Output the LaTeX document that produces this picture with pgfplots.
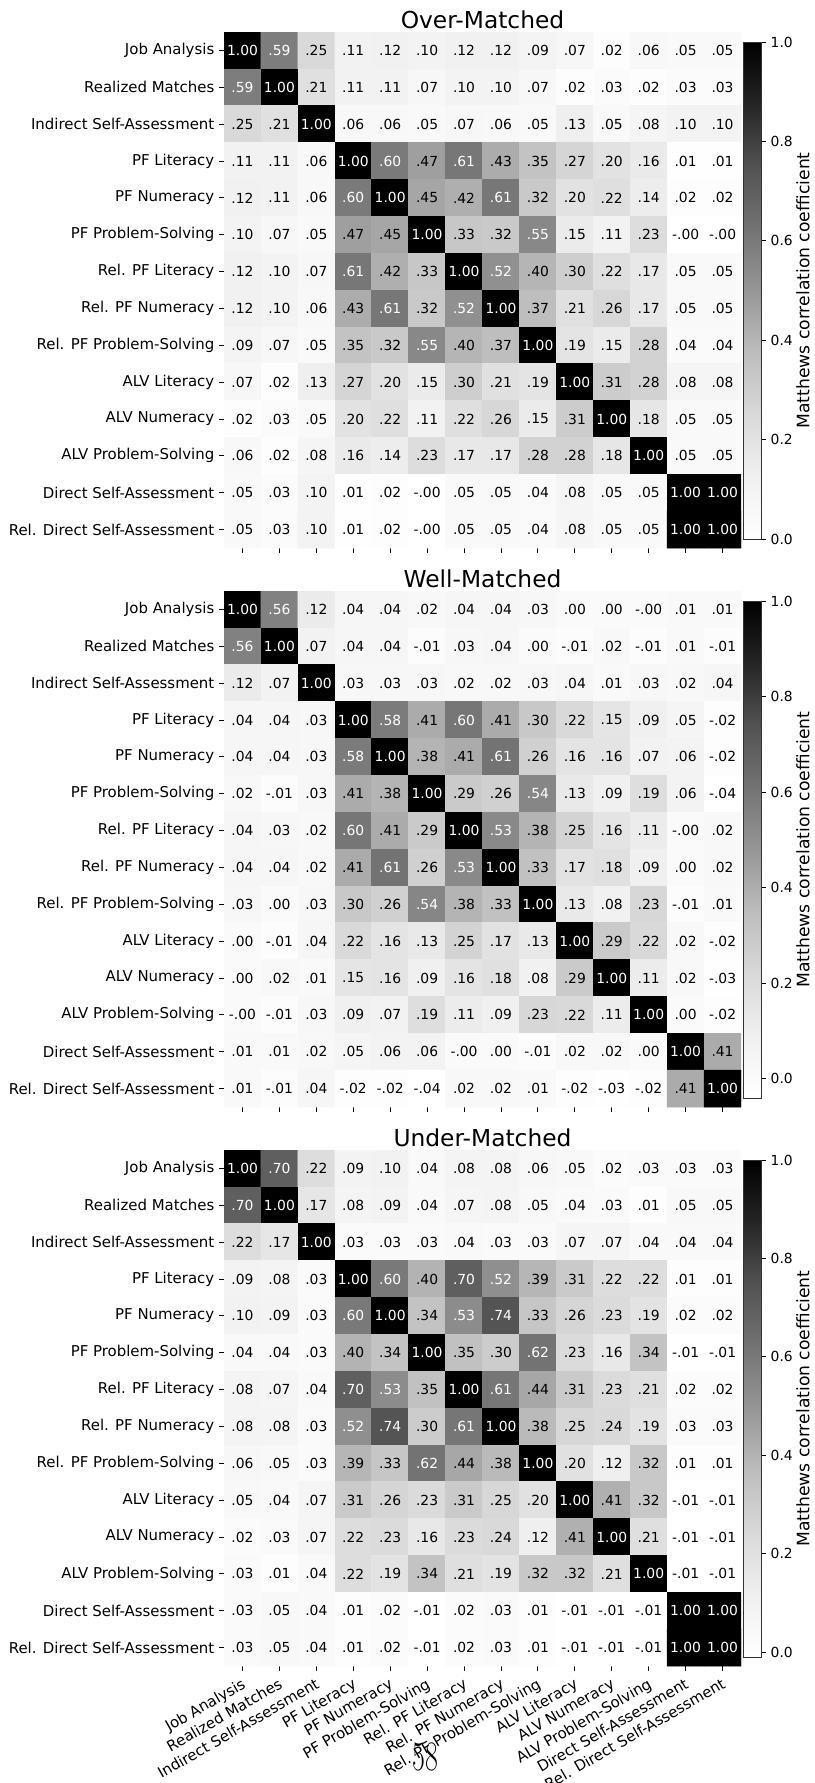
\documentclass[border=0pt]{standalone}
\usepackage{fontspec}
\setsansfont{DejaVu Sans}
\renewcommand{\familydefault}{\sfdefault}
\usepackage{graphicx}
\usepackage{pgfplots}
\usepackage{pgfplotstable}
\pgfplotsset{compat=1.18}

\newcommand\lab{\fontsize{11.2}{13}\selectfont}
\newcommand\ann{\fontsize{10.4}{12}\selectfont}
\newcommand\ttl{\fontsize{17.5}{20}\selectfont}
\newcommand\cbl{\fontsize{12.9}{15}\selectfont}

\pgfplotstableread{
x y v l
0 0 1 1.00
1 0 0.59 .59
2 0 0.25 .25
3 0 0.11 .11
4 0 0.12 .12
5 0 0.10 .10
6 0 0.12 .12
7 0 0.12 .12
8 0 0.09 .09
9 0 0.07 .07
10 0 0.02 .02
11 0 0.06 .06
12 0 0.05 .05
13 0 0.05 .05
0 1 0.59 .59
1 1 1 1.00
2 1 0.21 .21
3 1 0.11 .11
4 1 0.11 .11
5 1 0.07 .07
6 1 0.10 .10
7 1 0.10 .10
8 1 0.07 .07
9 1 0.02 .02
10 1 0.03 .03
11 1 0.02 .02
12 1 0.03 .03
13 1 0.03 .03
0 2 0.25 .25
1 2 0.21 .21
2 2 1 1.00
3 2 0.06 .06
4 2 0.06 .06
5 2 0.05 .05
6 2 0.07 .07
7 2 0.06 .06
8 2 0.05 .05
9 2 0.13 .13
10 2 0.05 .05
11 2 0.08 .08
12 2 0.10 .10
13 2 0.10 .10
0 3 0.11 .11
1 3 0.11 .11
2 3 0.06 .06
3 3 1 1.00
4 3 0.60 .60
5 3 0.47 .47
6 3 0.61 .61
7 3 0.43 .43
8 3 0.35 .35
9 3 0.27 .27
10 3 0.20 .20
11 3 0.16 .16
12 3 0.01 .01
13 3 0.01 .01
0 4 0.12 .12
1 4 0.11 .11
2 4 0.06 .06
3 4 0.60 .60
4 4 1 1.00
5 4 0.45 .45
6 4 0.42 .42
7 4 0.61 .61
8 4 0.32 .32
9 4 0.20 .20
10 4 0.22 .22
11 4 0.14 .14
12 4 0.02 .02
13 4 0.02 .02
0 5 0.10 .10
1 5 0.07 .07
2 5 0.05 .05
3 5 0.47 .47
4 5 0.45 .45
5 5 1 1.00
6 5 0.33 .33
7 5 0.32 .32
8 5 0.55 .55
9 5 0.15 .15
10 5 0.11 .11
11 5 0.23 .23
12 5 0 -.00
13 5 0 -.00
0 6 0.12 .12
1 6 0.10 .10
2 6 0.07 .07
3 6 0.61 .61
4 6 0.42 .42
5 6 0.33 .33
6 6 1 1.00
7 6 0.52 .52
8 6 0.40 .40
9 6 0.30 .30
10 6 0.22 .22
11 6 0.17 .17
12 6 0.05 .05
13 6 0.05 .05
0 7 0.12 .12
1 7 0.10 .10
2 7 0.06 .06
3 7 0.43 .43
4 7 0.61 .61
5 7 0.32 .32
6 7 0.52 .52
7 7 1 1.00
8 7 0.37 .37
9 7 0.21 .21
10 7 0.26 .26
11 7 0.17 .17
12 7 0.05 .05
13 7 0.05 .05
0 8 0.09 .09
1 8 0.07 .07
2 8 0.05 .05
3 8 0.35 .35
4 8 0.32 .32
5 8 0.55 .55
6 8 0.40 .40
7 8 0.37 .37
8 8 1 1.00
9 8 0.19 .19
10 8 0.15 .15
11 8 0.28 .28
12 8 0.04 .04
13 8 0.04 .04
0 9 0.07 .07
1 9 0.02 .02
2 9 0.13 .13
3 9 0.27 .27
4 9 0.20 .20
5 9 0.15 .15
6 9 0.30 .30
7 9 0.21 .21
8 9 0.19 .19
9 9 1 1.00
10 9 0.31 .31
11 9 0.28 .28
12 9 0.08 .08
13 9 0.08 .08
0 10 0.02 .02
1 10 0.03 .03
2 10 0.05 .05
3 10 0.20 .20
4 10 0.22 .22
5 10 0.11 .11
6 10 0.22 .22
7 10 0.26 .26
8 10 0.15 .15
9 10 0.31 .31
10 10 1 1.00
11 10 0.18 .18
12 10 0.05 .05
13 10 0.05 .05
0 11 0.06 .06
1 11 0.02 .02
2 11 0.08 .08
3 11 0.16 .16
4 11 0.14 .14
5 11 0.23 .23
6 11 0.17 .17
7 11 0.17 .17
8 11 0.28 .28
9 11 0.28 .28
10 11 0.18 .18
11 11 1 1.00
12 11 0.05 .05
13 11 0.05 .05
0 12 0.05 .05
1 12 0.03 .03
2 12 0.10 .10
3 12 0.01 .01
4 12 0.02 .02
5 12 0 -.00
6 12 0.05 .05
7 12 0.05 .05
8 12 0.04 .04
9 12 0.08 .08
10 12 0.05 .05
11 12 0.05 .05
12 12 1 1.00
13 12 1 1.00
0 13 0.05 .05
1 13 0.03 .03
2 13 0.10 .10
3 13 0.01 .01
4 13 0.02 .02
5 13 0 -.00
6 13 0.05 .05
7 13 0.05 .05
8 13 0.04 .04
9 13 0.08 .08
10 13 0.05 .05
11 13 0.05 .05
12 13 1 1.00
13 13 1 1.00
}\tA

\pgfplotstableread{
x y v l
0 0 1 1.00
1 0 0.56 .56
2 0 0.12 .12
3 0 0.04 .04
4 0 0.04 .04
5 0 0.02 .02
6 0 0.04 .04
7 0 0.04 .04
8 0 0.03 .03
9 0 0 .00
10 0 0 .00
11 0 0 -.00
12 0 0.01 .01
13 0 0.01 .01
0 1 0.56 .56
1 1 1 1.00
2 1 0.07 .07
3 1 0.04 .04
4 1 0.04 .04
5 1 -0.01 -.01
6 1 0.03 .03
7 1 0.04 .04
8 1 0 .00
9 1 -0.01 -.01
10 1 0.02 .02
11 1 -0.01 -.01
12 1 0.01 .01
13 1 -0.01 -.01
0 2 0.12 .12
1 2 0.07 .07
2 2 1 1.00
3 2 0.03 .03
4 2 0.03 .03
5 2 0.03 .03
6 2 0.02 .02
7 2 0.02 .02
8 2 0.03 .03
9 2 0.04 .04
10 2 0.01 .01
11 2 0.03 .03
12 2 0.02 .02
13 2 0.04 .04
0 3 0.04 .04
1 3 0.04 .04
2 3 0.03 .03
3 3 1 1.00
4 3 0.58 .58
5 3 0.41 .41
6 3 0.60 .60
7 3 0.41 .41
8 3 0.30 .30
9 3 0.22 .22
10 3 0.15 .15
11 3 0.09 .09
12 3 0.05 .05
13 3 -0.02 -.02
0 4 0.04 .04
1 4 0.04 .04
2 4 0.03 .03
3 4 0.58 .58
4 4 1 1.00
5 4 0.38 .38
6 4 0.41 .41
7 4 0.61 .61
8 4 0.26 .26
9 4 0.16 .16
10 4 0.16 .16
11 4 0.07 .07
12 4 0.06 .06
13 4 -0.02 -.02
0 5 0.02 .02
1 5 -0.01 -.01
2 5 0.03 .03
3 5 0.41 .41
4 5 0.38 .38
5 5 1 1.00
6 5 0.29 .29
7 5 0.26 .26
8 5 0.54 .54
9 5 0.13 .13
10 5 0.09 .09
11 5 0.19 .19
12 5 0.06 .06
13 5 -0.04 -.04
0 6 0.04 .04
1 6 0.03 .03
2 6 0.02 .02
3 6 0.60 .60
4 6 0.41 .41
5 6 0.29 .29
6 6 1 1.00
7 6 0.53 .53
8 6 0.38 .38
9 6 0.25 .25
10 6 0.16 .16
11 6 0.11 .11
12 6 0 -.00
13 6 0.02 .02
0 7 0.04 .04
1 7 0.04 .04
2 7 0.02 .02
3 7 0.41 .41
4 7 0.61 .61
5 7 0.26 .26
6 7 0.53 .53
7 7 1 1.00
8 7 0.33 .33
9 7 0.17 .17
10 7 0.18 .18
11 7 0.09 .09
12 7 0 .00
13 7 0.02 .02
0 8 0.03 .03
1 8 0 .00
2 8 0.03 .03
3 8 0.30 .30
4 8 0.26 .26
5 8 0.54 .54
6 8 0.38 .38
7 8 0.33 .33
8 8 1 1.00
9 8 0.13 .13
10 8 0.08 .08
11 8 0.23 .23
12 8 -0.01 -.01
13 8 0.01 .01
0 9 0 .00
1 9 -0.01 -.01
2 9 0.04 .04
3 9 0.22 .22
4 9 0.16 .16
5 9 0.13 .13
6 9 0.25 .25
7 9 0.17 .17
8 9 0.13 .13
9 9 1 1.00
10 9 0.29 .29
11 9 0.22 .22
12 9 0.02 .02
13 9 -0.02 -.02
0 10 0 .00
1 10 0.02 .02
2 10 0.01 .01
3 10 0.15 .15
4 10 0.16 .16
5 10 0.09 .09
6 10 0.16 .16
7 10 0.18 .18
8 10 0.08 .08
9 10 0.29 .29
10 10 1 1.00
11 10 0.11 .11
12 10 0.02 .02
13 10 -0.03 -.03
0 11 0 -.00
1 11 -0.01 -.01
2 11 0.03 .03
3 11 0.09 .09
4 11 0.07 .07
5 11 0.19 .19
6 11 0.11 .11
7 11 0.09 .09
8 11 0.23 .23
9 11 0.22 .22
10 11 0.11 .11
11 11 1 1.00
12 11 0 .00
13 11 -0.02 -.02
0 12 0.01 .01
1 12 0.01 .01
2 12 0.02 .02
3 12 0.05 .05
4 12 0.06 .06
5 12 0.06 .06
6 12 0 -.00
7 12 0 .00
8 12 -0.01 -.01
9 12 0.02 .02
10 12 0.02 .02
11 12 0 .00
12 12 1 1.00
13 12 0.41 .41
0 13 0.01 .01
1 13 -0.01 -.01
2 13 0.04 .04
3 13 -0.02 -.02
4 13 -0.02 -.02
5 13 -0.04 -.04
6 13 0.02 .02
7 13 0.02 .02
8 13 0.01 .01
9 13 -0.02 -.02
10 13 -0.03 -.03
11 13 -0.02 -.02
12 13 0.41 .41
13 13 1 1.00
}\tB

\pgfplotstableread{
x y v l
0 0 1 1.00
1 0 0.70 .70
2 0 0.22 .22
3 0 0.09 .09
4 0 0.10 .10
5 0 0.04 .04
6 0 0.08 .08
7 0 0.08 .08
8 0 0.06 .06
9 0 0.05 .05
10 0 0.02 .02
11 0 0.03 .03
12 0 0.03 .03
13 0 0.03 .03
0 1 0.70 .70
1 1 1 1.00
2 1 0.17 .17
3 1 0.08 .08
4 1 0.09 .09
5 1 0.04 .04
6 1 0.07 .07
7 1 0.08 .08
8 1 0.05 .05
9 1 0.04 .04
10 1 0.03 .03
11 1 0.01 .01
12 1 0.05 .05
13 1 0.05 .05
0 2 0.22 .22
1 2 0.17 .17
2 2 1 1.00
3 2 0.03 .03
4 2 0.03 .03
5 2 0.03 .03
6 2 0.04 .04
7 2 0.03 .03
8 2 0.03 .03
9 2 0.07 .07
10 2 0.07 .07
11 2 0.04 .04
12 2 0.04 .04
13 2 0.04 .04
0 3 0.09 .09
1 3 0.08 .08
2 3 0.03 .03
3 3 1 1.00
4 3 0.60 .60
5 3 0.40 .40
6 3 0.70 .70
7 3 0.52 .52
8 3 0.39 .39
9 3 0.31 .31
10 3 0.22 .22
11 3 0.22 .22
12 3 0.01 .01
13 3 0.01 .01
0 4 0.10 .10
1 4 0.09 .09
2 4 0.03 .03
3 4 0.60 .60
4 4 1 1.00
5 4 0.34 .34
6 4 0.53 .53
7 4 0.74 .74
8 4 0.33 .33
9 4 0.26 .26
10 4 0.23 .23
11 4 0.19 .19
12 4 0.02 .02
13 4 0.02 .02
0 5 0.04 .04
1 5 0.04 .04
2 5 0.03 .03
3 5 0.40 .40
4 5 0.34 .34
5 5 1 1.00
6 5 0.35 .35
7 5 0.30 .30
8 5 0.62 .62
9 5 0.23 .23
10 5 0.16 .16
11 5 0.34 .34
12 5 -0.01 -.01
13 5 -0.01 -.01
0 6 0.08 .08
1 6 0.07 .07
2 6 0.04 .04
3 6 0.70 .70
4 6 0.53 .53
5 6 0.35 .35
6 6 1 1.00
7 6 0.61 .61
8 6 0.44 .44
9 6 0.31 .31
10 6 0.23 .23
11 6 0.21 .21
12 6 0.02 .02
13 6 0.02 .02
0 7 0.08 .08
1 7 0.08 .08
2 7 0.03 .03
3 7 0.52 .52
4 7 0.74 .74
5 7 0.30 .30
6 7 0.61 .61
7 7 1 1.00
8 7 0.38 .38
9 7 0.25 .25
10 7 0.24 .24
11 7 0.19 .19
12 7 0.03 .03
13 7 0.03 .03
0 8 0.06 .06
1 8 0.05 .05
2 8 0.03 .03
3 8 0.39 .39
4 8 0.33 .33
5 8 0.62 .62
6 8 0.44 .44
7 8 0.38 .38
8 8 1 1.00
9 8 0.20 .20
10 8 0.12 .12
11 8 0.32 .32
12 8 0.01 .01
13 8 0.01 .01
0 9 0.05 .05
1 9 0.04 .04
2 9 0.07 .07
3 9 0.31 .31
4 9 0.26 .26
5 9 0.23 .23
6 9 0.31 .31
7 9 0.25 .25
8 9 0.20 .20
9 9 1 1.00
10 9 0.41 .41
11 9 0.32 .32
12 9 -0.01 -.01
13 9 -0.01 -.01
0 10 0.02 .02
1 10 0.03 .03
2 10 0.07 .07
3 10 0.22 .22
4 10 0.23 .23
5 10 0.16 .16
6 10 0.23 .23
7 10 0.24 .24
8 10 0.12 .12
9 10 0.41 .41
10 10 1 1.00
11 10 0.21 .21
12 10 -0.01 -.01
13 10 -0.01 -.01
0 11 0.03 .03
1 11 0.01 .01
2 11 0.04 .04
3 11 0.22 .22
4 11 0.19 .19
5 11 0.34 .34
6 11 0.21 .21
7 11 0.19 .19
8 11 0.32 .32
9 11 0.32 .32
10 11 0.21 .21
11 11 1 1.00
12 11 -0.01 -.01
13 11 -0.01 -.01
0 12 0.03 .03
1 12 0.05 .05
2 12 0.04 .04
3 12 0.01 .01
4 12 0.02 .02
5 12 -0.01 -.01
6 12 0.02 .02
7 12 0.03 .03
8 12 0.01 .01
9 12 -0.01 -.01
10 12 -0.01 -.01
11 12 -0.01 -.01
12 12 1 1.00
13 12 1 1.00
0 13 0.03 .03
1 13 0.05 .05
2 13 0.04 .04
3 13 0.01 .01
4 13 0.02 .02
5 13 -0.01 -.01
6 13 0.02 .02
7 13 0.03 .03
8 13 0.01 .01
9 13 -0.01 -.01
10 13 -0.01 -.01
11 13 -0.01 -.01
12 13 1 1.00
13 13 1 1.00
}\tC

\pgfplotsset{
  colormap={greys}{rgb255=(255,255,255) rgb255=(240,240,240) rgb255=(217,217,217) rgb255=(189,189,189) rgb255=(150,150,150) rgb255=(115,115,115) rgb255=(82,82,82) rgb255=(37,37,37) rgb255=(0,0,0)},
  /pgf/number format/assume math mode=true,
  every node near coord/.append style={anchor=center, inner sep=0pt, font=\ann},
  colorbar shift/.style={xshift=1.5pt},
  hm/.style={
    colormap name=greys,
    scale only axis, width=387.75pt, height=387pt,
    anchor=north west,
    xmin=-0.5, xmax=13.5, ymin=-0.5, ymax=13.5, enlargelimits=false,
    y dir=reverse,
    xtick={0,...,13}, ytick={0,...,13},
    yticklabels={Job Analysis,Realized Matches,Indirect Self-Assessment,PF Literacy,PF Numeracy,PF Problem-Solving,Rel. PF Literacy,Rel. PF Numeracy,Rel. PF Problem-Solving,ALV Literacy,ALV Numeracy,ALV Problem-Solving,Direct Self-Assessment,Rel. Direct Self-Assessment},
    xticklabels={},
    tick align=outside, xtick pos=left, ytick pos=left,
    major tick length=3.75pt,
    tick style={black, line width=0.6pt},
    axis line style={draw=none},
    ticklabel style={font=\lab},
    title style={font=\ttl, at={(0.5,1)}, anchor=base, yshift=-3pt, inner sep=0pt},
    point meta max=1,
    colorbar,
    colorbar style={
      scale only axis, width=13.5pt, height=372.75pt,
      at={(parent axis.north east)}, anchor=north west, yshift=-7.5pt,
      y dir=normal, title={},
      xtick=\empty,
      ytick={0,0.2,0.4,0.6,0.8,1}, yticklabels={0.0,0.2,0.4,0.6,0.8,1.0},
      ytick pos=right, yticklabel pos=right,
      tick align=outside, major tick length=3.75pt,
      tick style={black, line width=0.6pt},
      yticklabel style={font=\ann},
      axis line style={draw=black!80, line width=0.5pt},
      ylabel={Matthews correlation coefficient},
      ylabel style={font=\cbl, at={(axis description cs:3.333,0.5)}, anchor=center, rotate=0},
    },
  },
}

\newcommand{\heat}[1]{%
  \addplot[matrix plot*, mesh/cols=14, point meta=explicit] table[x=x,y=y,meta=v]{#1};
  \addplot[draw=none, mark=none, nodes near coords, point meta=explicit symbolic,
    restrict expr to domain={\thisrow{v}}{-2:0.5},
    every node near coord/.append style={text=black}] table[x=x,y=y,meta=l]{#1};
  \addplot[draw=none, mark=none, nodes near coords, point meta=explicit symbolic,
    restrict expr to domain={\thisrow{v}}{0.5:2},
    every node near coord/.append style={text=white}] table[x=x,y=y,meta=l]{#1};
}

\begin{document}
\begin{tikzpicture}
\useasboundingbox (0,0) rectangle (610.5pt,-1337.25pt);
\begin{axis}[hm, at={(168pt,-24pt)}, title={Over-Matched}, point meta min=0]
\heat{\tA}
\end{axis}
\begin{axis}[hm, at={(168pt,-443.25pt)}, title={Well-Matched}, point meta min=-0.04]
\heat{\tB}
\end{axis}
\begin{axis}[hm, at={(168pt,-862.5pt)}, title={Under-Matched}, point meta min=-0.01,
  xticklabels={Job Analysis,Realized Matches,Indirect Self-Assessment,PF Literacy,PF Numeracy,PF Problem-Solving,Rel. PF Literacy,Rel. PF Numeracy,Rel. PF Problem-Solving,ALV Literacy,ALV Numeracy,ALV Problem-Solving,Direct Self-Assessment,Rel. Direct Self-Assessment},
  xticklabel style={rotate=30, anchor=north east}]
\heat{\tC}
\end{axis}
\node at (318.75pt,-1317.75pt) {\rmfamily\fontsize{21}{21}\selectfont\scalebox{1}[1.5]{58}};
\end{tikzpicture}
\end{document}
